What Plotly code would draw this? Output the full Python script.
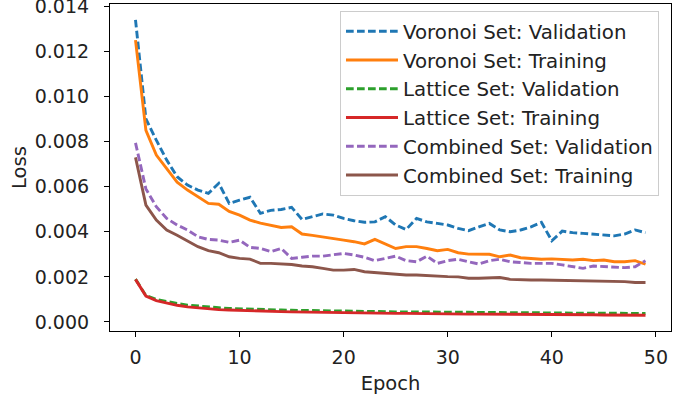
import plotly.graph_objects as go

epochs = list(range(50))

voronoi_val = [0.0134, 0.0090, 0.00806, 0.00718, 0.00644, 0.00607, 0.00585, 0.00570, 0.00615, 0.00526,
               0.00540, 0.00553, 0.00482, 0.00495, 0.00499, 0.00508, 0.00455, 0.00467, 0.00479, 0.00474,
               0.00459, 0.00449, 0.00442, 0.00444, 0.00467, 0.00430, 0.00410, 0.00459, 0.00444, 0.00437,
               0.00430, 0.00415, 0.00405, 0.00422, 0.00437, 0.00408, 0.00400, 0.00408, 0.00422, 0.00442,
               0.00360, 0.00403, 0.00396, 0.00393, 0.00390, 0.00385, 0.00382, 0.00390, 0.00408, 0.00396]

voronoi_train = [0.0125, 0.0085, 0.0074, 0.0068, 0.0062, 0.00585, 0.00555, 0.00526, 0.00522, 0.00490,
                 0.00474, 0.00452, 0.00438, 0.00430, 0.00419, 0.00422, 0.00390, 0.00384, 0.00378, 0.00371,
                 0.00363, 0.00356, 0.00346, 0.00366, 0.00346, 0.00326, 0.00334, 0.00334, 0.00326, 0.00316,
                 0.00322, 0.00307, 0.00301, 0.00301, 0.00300, 0.00289, 0.00297, 0.00285, 0.00282, 0.00278,
                 0.00280, 0.00278, 0.00275, 0.00278, 0.00272, 0.00275, 0.00267, 0.00267, 0.00272, 0.00256]

lattice_val = [0.00190, 0.00117, 0.00100, 0.00090, 0.00082, 0.00075, 0.00070, 0.00066, 0.00063, 0.00060,
               0.00058, 0.00056, 0.00055, 0.00054, 0.00053, 0.00052, 0.00051, 0.00050, 0.00049, 0.00049,
               0.00048, 0.00047, 0.00047, 0.00046, 0.00046, 0.00045, 0.00045, 0.00044, 0.00044, 0.00044,
               0.00043, 0.00043, 0.00043, 0.00042, 0.00042, 0.00042, 0.00041, 0.00041, 0.00041, 0.00040,
               0.00040, 0.00040, 0.00040, 0.00039, 0.00039, 0.00039, 0.00039, 0.00038, 0.00038, 0.00038]

lattice_train = [0.00189, 0.00115, 0.00095, 0.00083, 0.00074, 0.00067, 0.00062, 0.00058, 0.00055, 0.00053,
                 0.00051, 0.00049, 0.00048, 0.00047, 0.00046, 0.00045, 0.00044, 0.00043, 0.00042, 0.00042,
                 0.00041, 0.00040, 0.00040, 0.00039, 0.00039, 0.00038, 0.00038, 0.00037, 0.00037, 0.00036,
                 0.00036, 0.00036, 0.00035, 0.00035, 0.00035, 0.00034, 0.00034, 0.00034, 0.00033, 0.00033,
                 0.00033, 0.00032, 0.00032, 0.00032, 0.00032, 0.00031, 0.00031, 0.00031, 0.00030, 0.00030]

combined_val = [0.00794, 0.00590, 0.00511, 0.00459, 0.00430, 0.00408, 0.00378, 0.00366, 0.00363, 0.00353,
                0.00363, 0.00331, 0.00326, 0.00312, 0.00326, 0.00282, 0.00287, 0.00292, 0.00292, 0.00297,
                0.00304, 0.00297, 0.00287, 0.00272, 0.00282, 0.00292, 0.00272, 0.00267, 0.00292, 0.00260,
                0.00272, 0.00278, 0.00267, 0.00257, 0.00272, 0.00278, 0.00267, 0.00263, 0.00260, 0.00260,
                0.00260, 0.00253, 0.00245, 0.00238, 0.00248, 0.00245, 0.00241, 0.00241, 0.00245, 0.00272]

combined_train = [0.00730, 0.00518, 0.00452, 0.00408, 0.00385, 0.00360, 0.00334, 0.00316, 0.00307, 0.00289,
                  0.00282, 0.00279, 0.00260, 0.00260, 0.00257, 0.00255, 0.00248, 0.00245, 0.00238, 0.00230,
                  0.00230, 0.00233, 0.00223, 0.00219, 0.00216, 0.00213, 0.00208, 0.00208, 0.00205, 0.00204,
                  0.00201, 0.00200, 0.00194, 0.00194, 0.00197, 0.00197, 0.00189, 0.00186, 0.00186, 0.00186,
                  0.00185, 0.00186, 0.00183, 0.00182, 0.00184, 0.00182, 0.00179, 0.00179, 0.00175, 0.00175]

series = [
    ("Voronoi Set: Validation", voronoi_val, "#1f77b4", True),
    ("Voronoi Set: Training", voronoi_train, "#ff7f0e", False),
    ("Lattice Set: Validation", lattice_val, "#2ca02c", True),
    ("Lattice Set: Training", lattice_train, "#d62728", False),
    ("Combined Set: Validation", combined_val, "#9467bd", True),
    ("Combined Set: Training", combined_train, "#8c564b", False),
]

FONT = "DejaVu Sans"
TFS = 19      # tick labels
AFS = 19.5    # axis titles
LFS = 19.8    # legend

fig = go.Figure()
for name, vals, color, dashed in series:
    fig.add_trace(go.Scatter(
        x=epochs, y=vals, mode="lines", name=name,
        line=dict(color=color, width=2.9, dash="7.7px,3.3px" if dashed else "solid"),
    ))

axis_common = dict(
    showline=True, linecolor="black", linewidth=1.1, mirror=True,
    ticks="outside", ticklen=5, tickwidth=1.1, tickcolor="black",
    showgrid=False, zeroline=False, automargin=False,
    ticklabeloverflow="allow",
    tickfont=dict(family=FONT, size=TFS, color="#222222"),
)

fig.update_layout(
    width=695, height=395,
    margin=dict(l=110, r=24, t=4, b=64),
    paper_bgcolor="white", plot_bgcolor="white",
    font=dict(family=FONT, size=TFS, color="#222222"),
    xaxis=dict(range=[-2.45, 51.45], tickvals=[0, 10, 20, 30, 40, 50],
               title=dict(text="Epoch", font=dict(family=FONT, size=AFS), standoff=12),
               ticklabelstandoff=4, **axis_common),
    yaxis=dict(range=[-0.0004, 0.0141], tick0=0, dtick=0.002, tickformat=".3f",
               title=dict(text="Loss", font=dict(family=FONT, size=AFS), standoff=2),
               ticklabelstandoff=11, **axis_common),
    legend=dict(
        x=0.9786, y=0.979, xanchor="right", yanchor="top",
        bgcolor="rgba(255,255,255,0.8)", bordercolor="#cccccc", borderwidth=1,
        font=dict(family=FONT, size=LFS, color="#222222"),
        itemwidth=52,
    ),
    showlegend=True,
)

fig.write_html(
    "out.html",
    config={"displayModeBar": False},
    post_script="document.body.style.margin='0';document.body.style.padding='0';",
)
